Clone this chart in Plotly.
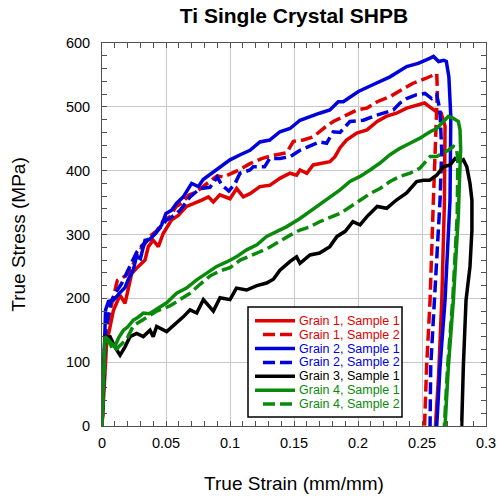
import plotly.graph_objects as go

# ---- data (strain mm/mm, stress MPa) ----
g1s1_x = [0, 0.002, 0.0036, 0.0089, 0.0141, 0.018, 0.0232, 0.0284, 0.0336, 0.0362, 0.040, 0.044, 0.0479, 0.0544, 0.0596,
          0.0661, 0.0727, 0.0779, 0.0831, 0.087, 0.092, 0.100, 0.1052, 0.1104, 0.1156, 0.1234, 0.131, 0.139, 0.1469, 0.152,
          0.1547, 0.160, 0.165, 0.173, 0.178, 0.182, 0.186, 0.191, 0.199, 0.207, 0.215, 0.222, 0.230, 0.238, 0.246, 0.252,
          0.256, 0.2615, 0.265, 0.268, 0.2675, 0.2655, 0.263, 0.2605]
g1s1_y = [0, 80, 129, 181, 205, 192, 239, 250, 260, 281, 291, 281, 302, 323, 330,
          344, 349, 354, 359, 351, 362, 356, 372, 359, 364, 375, 377, 388, 396, 393,
          401, 396, 409, 412, 414, 422, 436, 448, 459, 464, 477, 485, 490, 498, 503, 506,
          500, 492, 490, 470, 350, 200, 80, 0]

g1s2_x = [0, 0.003, 0.008, 0.012, 0.016, 0.020, 0.024, 0.028, 0.033, 0.038, 0.043, 0.048, 0.053, 0.058, 0.063, 0.068,
          0.073, 0.078, 0.084, 0.090, 0.095, 0.1013, 0.1078, 0.1156, 0.1247, 0.1339, 0.1443, 0.1495, 0.1573, 0.1651,
          0.1729, 0.1807, 0.1885, 0.199, 0.207, 0.215, 0.225, 0.234, 0.243, 0.2523, 0.2576, 0.2615, 0.262, 0.261,
          0.2589, 0.2563, 0.2536, 0.252]
g1s2_y = [0, 150, 195, 228, 232, 238, 252, 272, 284, 298, 306, 322, 328, 344, 350, 362,
          366, 374, 382, 392, 390, 396, 402, 411, 419, 424, 428, 446, 448, 453,
          466, 477, 485, 495, 498, 508, 516, 526, 537, 544, 549, 552, 526, 458,
          354, 197, 93, 0]

g2s1_x = [0, 0.0015, 0.0028, 0.0050, 0.0089, 0.0141, 0.018, 0.0206, 0.0245, 0.027, 0.030, 0.0336, 0.037, 0.0414, 0.0466,
          0.050, 0.0544, 0.0583, 0.0635, 0.070, 0.0753, 0.079, 0.086, 0.092, 0.100, 0.108, 0.1156, 0.1234, 0.131, 0.139,
          0.1469, 0.1547, 0.1625, 0.170, 0.178, 0.1846, 0.1885, 0.2003, 0.212, 0.225, 0.238, 0.247, 0.256, 0.259, 0.263,
          0.267, 0.269, 0.271, 0.2725, 0.2725, 0.2719, 0.268, 0.2641, 0.2615]
g2s1_y = [0, 90, 182, 195, 197, 209, 217, 230, 245, 266, 262, 291, 292, 301, 315,
          333, 338, 349, 359, 380, 375, 386, 396, 406, 417, 425, 432, 445, 448, 461,
          466, 479, 485, 490, 495, 508, 508, 524, 535, 547, 563, 568, 576, 579, 571,
          573, 571, 547, 485, 400, 354, 197, 93, 0]

g2s2_x = [0, 0.003, 0.007, 0.011, 0.015, 0.019, 0.023, 0.027, 0.031, 0.036, 0.041, 0.046, 0.050, 0.055, 0.061, 0.0688,
          0.0766, 0.0844, 0.090, 0.0935, 0.099, 0.104, 0.1078, 0.1156, 0.1182, 0.127, 0.131, 0.139, 0.147, 0.1547, 0.1625,
          0.170, 0.1755, 0.1807, 0.186, 0.1937, 0.2042, 0.2146, 0.2276, 0.2328, 0.238, 0.2458, 0.2523, 0.2576, 0.2615,
          0.264, 0.2654, 0.2641, 0.2597, 0.2568, 0.2563]
g2s2_y = [0, 150, 195, 210, 222, 240, 255, 272, 282, 292, 300, 312, 322, 328, 338, 359,
          372, 374, 390, 378, 368, 380, 396, 401, 406, 406, 419, 419, 422, 432, 438,
          445, 443, 461, 460, 477, 479, 487, 495, 506, 513, 519, 521, 513, 519,
          495, 432, 354, 197, 93, 0]

g3s1_x = [0, 0.0023, 0.0063, 0.010, 0.0141, 0.018, 0.0219, 0.0271, 0.0323, 0.0375, 0.040, 0.0427, 0.0505, 0.0583,
          0.0635, 0.0688, 0.074, 0.0792, 0.087, 0.0922, 0.100, 0.105, 0.1130, 0.121, 0.1286, 0.1339, 0.139, 0.147, 0.152,
          0.1547, 0.1625, 0.170, 0.178, 0.1836, 0.190, 0.196, 0.2016, 0.207, 0.215, 0.2224, 0.230, 0.238, 0.2458, 0.251,
          0.256, 0.2615, 0.2667, 0.272, 0.2758, 0.2797, 0.2823, 0.285, 0.2875, 0.289, 0.289, 0.2875, 0.2844, 0.2823, 0.281]
g3s1_y = [0, 140, 140, 124, 111, 124, 140, 145, 140, 150, 140, 156, 148, 161,
          171, 182, 177, 198, 180, 201, 198, 216, 213, 220, 224, 230, 244, 258, 265,
          255, 268, 271, 281, 297, 305, 320, 315, 328, 344, 341, 354, 365, 383, 385,
          385, 393, 406, 409, 419, 414, 417, 406, 380, 354, 307, 250, 197, 93, 0]

g4s1_x = [0, 0.0023, 0.005, 0.008, 0.010, 0.013, 0.0167, 0.020, 0.0245, 0.028, 0.0323, 0.037, 0.0427, 0.0505, 0.0583,
          0.066, 0.074, 0.0818, 0.0896, 0.0974, 0.105, 0.113, 0.121, 0.1286, 0.1365, 0.144, 0.1547, 0.1625, 0.170, 0.178,
          0.186, 0.1937, 0.2016, 0.2094, 0.2172, 0.225, 0.2328, 0.2406, 0.2484, 0.2563, 0.2615, 0.2667, 0.2706, 0.2745,
          0.2784, 0.2797, 0.2802, 0.2792, 0.2784, 0.2745, 0.2706, 0.268]
g4s1_y = [0, 140, 135, 128, 124, 138, 150, 155, 166, 170, 177, 176, 183, 193, 208,
          216, 229, 239, 250, 257, 265, 276, 284, 297, 305, 312, 325, 336, 346, 358,
          370, 383, 391, 401, 412, 425, 435, 443, 451, 461, 466, 477, 485, 482,
          477, 464, 433, 380, 330, 197, 93, 0]

g4s2_x = [0, 0.0025, 0.006, 0.009, 0.012, 0.0155, 0.0193, 0.0245, 0.0323, 0.0427, 0.053, 0.0609, 0.0688, 0.0766,
          0.0844, 0.0922, 0.100, 0.108, 0.1156, 0.1234, 0.131, 0.139, 0.147, 0.1547, 0.1625, 0.170, 0.178, 0.186, 0.1937,
          0.2016, 0.2094, 0.2172, 0.225, 0.2328, 0.2406, 0.2484, 0.2563, 0.2615, 0.2654, 0.2706, 0.2745, 0.277, 0.278,
          0.2775, 0.274, 0.270, 0.2675]
g4s2_y = [0, 135, 130, 118, 122, 128, 136, 157, 167, 180, 188, 198, 208, 222,
          235, 243, 248, 260, 266, 273, 280, 290, 299, 307, 312, 320, 327, 333, 343,
          354, 364, 372, 383, 391, 396, 404, 422, 422, 427, 432, 438, 435, 417,
          330, 197, 93, 0]

series_names = ["Grain 1, Sample 1", "Grain 1, Sample 2", "Grain 2, Sample 1", "Grain 2, Sample 2",
                "Grain 3, Sample 1", "Grain 4, Sample 1", "Grain 4, Sample 2"]
x_ticks = [0, 0.05, 0.1, 0.15, 0.2, 0.25, 0.3]
x_tick_labels = ["0", "0.05", "0.1", "0.15", "0.2", "0.25", "0.3"]
y_ticks = [0, 100, 200, 300, 400, 500, 600]

RED, BLUE, BLACK, GREEN = "#e00000", "#0000dd", "#000000", "#0a8a0a"
DASH = "12px,5px"

specs = [
    (g1s1_x, g1s1_y, RED, "solid"),
    (g1s2_x, g1s2_y, RED, DASH),
    (g2s1_x, g2s1_y, BLUE, "solid"),
    (g2s2_x, g2s2_y, BLUE, DASH),
    (g3s1_x, g3s1_y, BLACK, "solid"),
    (g4s1_x, g4s1_y, GREEN, "solid"),
    (g4s2_x, g4s2_y, GREEN, DASH),
]

W, H = 497, 502
ML, MR, MT, MB = 102, 11, 43, 76
PW, PH = W - ML - MR, H - MT - MB

def px2paper_x(px):
    return (px - ML) / PW

def px2paper_y(py):
    return (H - MB - py) / PH

fig = go.Figure()
for name, (xs, ys, col, dash) in zip(series_names, specs):
    fig.add_trace(go.Scatter(
        x=xs, y=ys, mode="lines", name=name, showlegend=False,
        line=dict(color=col, width=3.5, dash=dash),
    ))

FONT = "Liberation Sans, Arial, sans-serif"

# ---- legend box (drawn as paper-referenced shapes and colored text) ----
shapes = [dict(type="rect", xref="paper", yref="paper",
               x0=px2paper_x(248), x1=px2paper_x(402), y0=px2paper_y(417), y1=px2paper_y(307),
               fillcolor="white", line=dict(color="#000", width=1.5), layer="above")]
annotations = []
for i, (name, (_, _, col, dash)) in enumerate(zip(series_names, specs)):
    yc = 320.7 + 13.9 * i
    x_start = 255 if dash == "solid" else 263
    shapes.append(dict(type="line", xref="paper", yref="paper",
                       x0=px2paper_x(x_start), x1=px2paper_x(295),
                       y0=px2paper_y(yc), y1=px2paper_y(yc),
                       line=dict(color=col, width=3.5, dash=dash), layer="above"))
    annotations.append(dict(xref="paper", yref="paper", x=px2paper_x(297), y=px2paper_y(yc),
                            xanchor="left", yanchor="middle", showarrow=False, text=name,
                            font=dict(family=FONT, size=12.5, color=col)))

AX = "#505050"
common = dict(showline=True, linecolor=AX, linewidth=1, mirror="ticks",
              ticks="inside", ticklen=5, tickcolor=AX, tickwidth=1, automargin=False,
              showgrid=True, gridcolor="#c8c8c8", gridwidth=1, zeroline=False,
              tickfont=dict(family=FONT, size=14.5, color="#000"))

fig.update_layout(
    width=W, height=H,
    margin=dict(l=ML, r=MR, t=MT, b=MB, autoexpand=False),
    paper_bgcolor="white", plot_bgcolor="white",
    font=dict(family=FONT, color="#000"),
    title=dict(text="<b>Ti Single Crystal SHPB</b>", x=294 / W, xanchor="center",
               y=1 - 16 / H, yanchor="middle", font=dict(family=FONT, size=21, color="#000")),
    xaxis=dict(range=[0, 0.3], tickvals=x_ticks, ticktext=x_tick_labels,
               minor=dict(dtick=0.01, tick0=0, ticks="inside", ticklen=5, tickcolor=AX, showgrid=False),
               title=dict(text="True Strain (mm/mm)", font=dict(family=FONT, size=19), standoff=26),
               ticklabelstandoff=4, **common),
    yaxis=dict(range=[0, 600], tickvals=y_ticks,
               minor=dict(dtick=20, tick0=0, ticks="inside", ticklen=5, tickcolor=AX, showgrid=False),
               title=dict(text="True Stress (MPa)", font=dict(family=FONT, size=19), standoff=35),
               ticklabelstandoff=8, **common),
    shapes=shapes,
    annotations=annotations,
    showlegend=False,
)

fig.write_html("out.html")
